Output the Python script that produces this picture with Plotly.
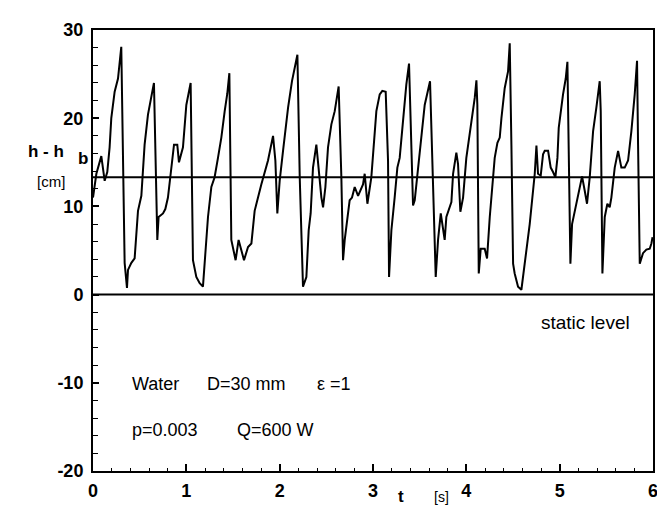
import plotly.graph_objects as go

# time [s]
t = [0.0, 0.011, 0.036, 0.089, 0.125, 0.153, 0.178, 0.196, 0.232, 0.268, 0.303,
     0.339, 0.364, 0.375, 0.411, 0.446, 0.482, 0.518, 0.553, 0.589, 0.625, 0.653,
     0.689, 0.703, 0.750, 0.775, 0.803, 0.839, 0.868, 0.903, 0.921, 0.964, 1.000,
     1.046, 1.071, 1.107, 1.143, 1.178, 1.232, 1.268, 1.303, 1.339, 1.375, 1.411,
     1.439, 1.461, 1.482, 1.528, 1.560, 1.618, 1.661, 1.697, 1.732, 1.804, 1.875,
     1.929, 1.954, 1.975, 2.000, 2.036, 2.090, 2.132, 2.161, 2.190, 2.215, 2.240,
     2.250, 2.286, 2.311, 2.332, 2.357, 2.393, 2.418, 2.447, 2.465, 2.490, 2.518,
     2.554, 2.590, 2.632, 2.661, 2.679, 2.697, 2.722, 2.750, 2.775, 2.804, 2.840,
     2.868, 2.893, 2.911, 2.940, 2.982, 3.011, 3.036, 3.072, 3.100, 3.136, 3.161,
     3.172, 3.197, 3.232, 3.261, 3.286, 3.322, 3.357, 3.386, 3.411, 3.429, 3.447,
     3.482, 3.518, 3.554, 3.611, 3.643, 3.661, 3.672, 3.697, 3.726, 3.768, 3.786,
     3.840, 3.858, 3.893, 3.911, 3.936, 3.965, 4.000, 4.054, 4.090, 4.108, 4.118,
     4.133, 4.154, 4.197, 4.222, 4.251, 4.286, 4.304, 4.333, 4.358, 4.376, 4.411,
     4.447, 4.465, 4.483, 4.501, 4.518, 4.554, 4.590, 4.626, 4.679, 4.733, 4.751,
     4.768, 4.797, 4.822, 4.840, 4.876, 4.904, 4.929, 4.954, 4.976, 4.990, 5.036,
     5.065, 5.083, 5.097, 5.115, 5.133, 5.179, 5.215, 5.240, 5.268, 5.293, 5.322,
     5.358, 5.393, 5.429, 5.440, 5.458, 5.483, 5.511, 5.536, 5.554, 5.590, 5.626,
     5.661, 5.697, 5.733, 5.768, 5.804, 5.829, 5.840, 5.858, 5.893, 5.929, 5.965,
     5.983, 5.995]

# h - h_b [cm]
h = [11.0, 11.8, 13.7, 15.7, 12.9, 13.9, 16.7, 20.0, 23.0, 24.5, 28.1,
     3.6, 0.75, 2.8, 3.6, 4.1, 9.5, 11.2, 17.0, 20.4, 22.5, 24.0,
     6.2, 8.8, 9.2, 9.7, 11.0, 14.0, 17.0, 17.0, 15.0, 16.7, 21.5,
     24.0, 3.9, 2.0, 1.3, 0.9, 8.8, 12.2, 13.3, 15.5, 17.8, 20.8,
     22.8, 25.1, 6.2, 3.9, 6.2, 3.9, 5.4, 5.8, 9.5, 12.5, 15.2,
     18.0, 15.2, 9.2, 12.9, 16.3, 21.2, 24.2, 25.7, 27.2, 13.3, 2.0,
     0.9, 2.0, 7.3, 9.2, 14.4, 17.0, 14.0, 11.0, 9.9, 12.2, 16.7,
     19.3, 20.8, 23.6, 13.3, 3.9, 6.2, 8.1, 10.7, 11.0, 12.2, 11.2,
     11.8, 12.5, 13.7, 10.3, 13.3, 17.0, 20.8, 22.7, 23.1, 23.0, 15.2,
     2.0, 7.3, 11.0, 14.4, 15.5, 19.7, 23.8, 26.2, 15.2, 10.1, 10.7,
     14.4, 18.5, 21.5, 24.2, 13.3, 6.2, 2.0, 6.2, 9.2, 6.2, 8.8,
     10.5, 13.7, 16.1, 14.8, 9.4, 11.0, 15.5, 19.3, 22.3, 24.3, 21.5,
     2.4, 5.2, 5.2, 4.1, 8.8, 12.9, 15.5, 17.2, 17.8, 20.0, 23.4,
     25.3, 28.5, 17.0, 3.5, 2.4, 0.9, 0.55, 3.5, 8.0, 13.7, 16.9,
     13.7, 13.5, 15.9, 16.3, 16.3, 14.4, 13.9, 13.3, 15.5, 18.9, 22.7,
     24.5, 26.4, 17.0, 3.5, 8.0, 10.3, 12.2, 13.4, 11.8, 10.3, 13.3,
     18.5, 21.2, 24.2, 20.8, 2.4, 8.8, 10.3, 9.9, 11.0, 14.4, 16.3,
     14.4, 14.4, 15.2, 18.5, 22.7, 26.5, 17.0, 3.5, 4.7, 5.1, 5.2,
     5.8, 6.5]

mean_level = 13.3
static_level = 0.0
x_line = [0, 6]

x_ticks = [0, 1, 2, 3, 4, 5, 6]
y_ticks = [-20, -10, 0, 10, 20, 30]

FONT = "Liberation Sans"

fig = go.Figure()
fig.add_trace(go.Scatter(x=t, y=h, mode="lines",
                         line=dict(color="black", width=2), showlegend=False,
                         hoverinfo="skip"))
fig.add_trace(go.Scatter(x=x_line, y=[mean_level, mean_level], mode="lines",
                         line=dict(color="black", width=2), showlegend=False,
                         hoverinfo="skip"))
fig.add_trace(go.Scatter(x=x_line, y=[static_level, static_level], mode="lines",
                         line=dict(color="black", width=2), showlegend=False,
                         hoverinfo="skip"))

fig.update_layout(
    width=665, height=506,
    margin=dict(l=85, r=20, t=18, b=43),
    paper_bgcolor="white", plot_bgcolor="white",
    font=dict(family=FONT, color="black", size=17),
    xaxis=dict(range=[0, 6], tickvals=x_ticks, ticktext=[str(v) for v in x_ticks],
               showgrid=False, zeroline=False, showline=True, linecolor="black",
               linewidth=2, mirror=True, ticks="inside", ticklen=7, tickwidth=1.5,
               tickcolor="black",
               minor=dict(dtick=0.2, ticks="inside", ticklen=3, tickwidth=1,
                          tickcolor="black"),
               tickfont=dict(family=FONT, size=18, color="black", weight="bold"),
               ticklabelstandoff=2),
    yaxis=dict(range=[-20, 30], tickvals=y_ticks, ticktext=[str(v) for v in y_ticks],
               showgrid=False, zeroline=False, showline=True, linecolor="black",
               linewidth=2, mirror=True, ticks="inside", ticklen=6, tickwidth=1.5,
               tickcolor="black",
               minor=dict(dtick=2, ticks="inside", ticklen=5, tickwidth=1.2,
                          tickcolor="black"),
               tickfont=dict(family=FONT, size=18, color="black", weight="bold"),
               ticklabelstandoff=4),
)

# labels placed in pixel coordinates of the page
annots = [
    dict(x=18, y=141, text="h - h", size=17, bold=True),
    dict(x=68, y=148, text="b", size=17, bold=True),
    dict(x=27, y=171, text="[cm]", size=15, bold=False),
    dict(x=388, y=489, text="t", size=17, bold=True),
    dict(x=424, y=489, text="[s]", size=14, bold=False),
]
for a in annots:
    fig.add_annotation(xref="paper", yref="paper",
                       x=(a["x"] - 85) / 560, y=(463 - a["y"]) / 445,
                       text=a["text"], showarrow=False, xanchor="left",
                       yanchor="middle",
                       font=dict(family=FONT, size=a["size"], color="black",
                                 weight="bold" if a["bold"] else "normal"))

texts = [
    (4.78, -3.15, "static level", 19),
    (0.40, -10.1, "Water", 18),
    (1.20, -10.1, "D=30 mm", 18),
    (2.38, -10.1, "ε =1", 18),
    (0.40, -15.3, "p=0.003", 18),
    (1.52, -15.3, "Q=600 W", 18),
]
for x, y, s, size in texts:
    fig.add_annotation(x=x, y=y, xref="x", yref="y", text=s,
                       showarrow=False, xanchor="left", yanchor="middle",
                       font=dict(family=FONT, size=size, color="black"))

fig.write_html("out.html")
